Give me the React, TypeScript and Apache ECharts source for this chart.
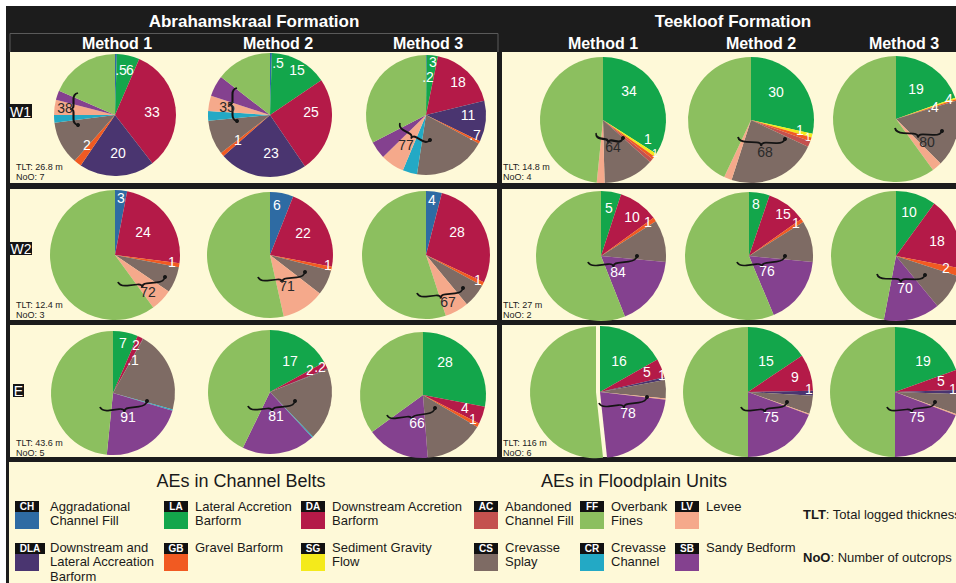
import React, { useEffect, useRef } from 'react';
import * as echarts from 'echarts';

// ---------- DATA ----------
const AE_COLORS: Record<string, string> = {
  CH: '#2E6BA3', LA: '#13A64B', DA: '#B41A48', DLA: '#4A3570', GB: '#F15A22', SG: '#F4EA1B',
  AC: '#C4514E', FF: '#8CBF5F', LV: '#F5A98B', CS: '#7E6B64', CR: '#23A9C5', SB: '#84418F',
};

const ROWS = ['W1', 'W2', 'E'];
const FORMATIONS = ['Abrahamskraal Formation', 'Teekloof Formation'];
const METHODS = ['Method 1', 'Method 2', 'Method 3'];

type Slice = [string, number];
// clockwise from 12 o'clock, percent of logged thickness
const W1_ABR_M1: Slice[] = [['CH', 0.5], ['LA', 6], ['DA', 33], ['DLA', 20], ['GB', 2], ['CS', 11.5], ['CR', 2], ['LV', 4], ['SB', 2.5], ['FF', 18.5]];
const W1_ABR_M2: Slice[] = [['CH', 0.5], ['LA', 15], ['DA', 25], ['DLA', 23], ['GB', 1], ['CS', 9], ['CR', 2.5], ['LV', 4], ['SB', 5.5], ['FF', 14.5]];
const W1_ABR_M3: Slice[] = [['CH', 0.2], ['LA', 3], ['DA', 18], ['DLA', 11], ['GB', 0.7], ['CS', 19.5], ['CR', 3.9], ['LV', 6.4], ['SB', 4.7], ['FF', 32.6]];
const W1_TEE_M1: Slice[] = [['LA', 34], ['SG', 0.8], ['GB', 0.8], ['AC', 1], ['CS', 13], ['LV', 2], ['FF', 48.4]];
const W1_TEE_M2: Slice[] = [['LA', 28.5], ['SG', 1], ['GB', 1], ['AC', 1.5], ['CS', 23], ['LV', 2], ['FF', 43]];
const W1_TEE_M3: Slice[] = [['LA', 19.5], ['SG', 0.4], ['GB', 0.4], ['CS', 17.2], ['LV', 2.5], ['FF', 60]];

const W2_ABR_M1: Slice[] = [['CH', 3], ['DA', 24], ['GB', 1], ['CS', 6.5], ['LV', 5.5], ['FF', 60]];
const W2_ABR_M2: Slice[] = [['CH', 6], ['DA', 22], ['GB', 1], ['CS', 6.5], ['LV', 11], ['FF', 53.5]];
const W2_ABR_M3: Slice[] = [['CH', 4], ['DA', 28], ['GB', 1], ['CS', 6], ['LV', 6], ['FF', 55]];
const W2_TEE_M1: Slice[] = [['LA', 5], ['DA', 10], ['GB', 1], ['CS', 10.5], ['SB', 17.5], ['FF', 56]];
const W2_TEE_M2: Slice[] = [['LA', 5.2], ['DA', 10], ['GB', 0.9], ['CS', 10.4], ['SB', 17.2], ['FF', 56.3]];
const W2_TEE_M3: Slice[] = [['LA', 10], ['DA', 18], ['GB', 2], ['CS', 9], ['SB', 14], ['FF', 47]];

const E_ABR_M1: Slice[] = [['LA', 6.5], ['DA', 1.5], ['DLA', 0.1], ['CS', 21.2], ['CR', 0.3], ['SB', 22], ['FF', 48.4]];
const E_ABR_M2: Slice[] = [['LA', 17], ['DA', 1.8], ['DLA', 0.2], ['CS', 18.8], ['CR', 0.3], ['SB', 19.1], ['FF', 42.8]];
const E_ABR_M3: Slice[] = [['LA', 28], ['DA', 4.5], ['GB', 1], ['CS', 15.3], ['SB', 16.2], ['FF', 35]];
const E_TEE_M1: Slice[] = [['LA', 16.8], ['DA', 4.6], ['DLA', 0.7], ['CS', 4.5], ['LV', 0.3], ['SB', 21.4], ['FF', 51.7]];
const E_TEE_M2: Slice[] = [['LA', 15.6], ['DA', 9.1], ['DLA', 1.2], ['CS', 4.5], ['LV', 0.3], ['SB', 19.3], ['FF', 50]];
const E_TEE_M3: Slice[] = [['LA', 19.5], ['DA', 5], ['DLA', 1], ['CS', 5], ['LV', 0.3], ['SB', 19.2], ['FF', 50]];

const PIES: Slice[][][] = [
  [W1_ABR_M1, W1_ABR_M2, W1_ABR_M3, W1_TEE_M1, W1_TEE_M2, W1_TEE_M3],
  [W2_ABR_M1, W2_ABR_M2, W2_ABR_M3, W2_TEE_M1, W2_TEE_M2, W2_TEE_M3],
  [E_ABR_M1, E_ABR_M2, E_ABR_M3, E_TEE_M1, E_TEE_M2, E_TEE_M3],
];

// numbers printed on the slices
const SLICE_LABELS: string[][][] = [
  [['.5', '6', '33', '20', '2'], ['.5', '15', '25', '23', '1'], ['3', '.2', '18', '11', '.7'], ['34', '1', '1'], ['30', '1', '1'], ['19', '.4', '4']],
  [['3', '24', '1'], ['6', '22', '1'], ['4', '28', '1'], ['5', '10', '1'], ['8', '15', '1'], ['10', '18', '2']],
  [['7', '2', '.1'], ['17', '2', '.2'], ['28', '4', '1'], ['16', '5', '1'], ['15', '9', '1'], ['19', '5', '1']],
];
// bracketed floodplain totals
const FLOODPLAIN_TOTALS: number[][] = [
  [38, 35, 77, 64, 68, 80],
  [72, 71, 67, 84, 76, 70],
  [91, 81, 66, 78, 75, 75],
];
const ABR_TLT = ['26.8 m', '12.4 m', '43.6 m'];
const ABR_NOO = [7, 3, 5];
const TEE_TLT = ['14.8 m', '27 m', '116 m'];
const TEE_NOO = [4, 2, 6];

const LEGEND_ROW1: [string, string[]][] = [
  ['CH', ['Aggradational', 'Channel Fill']], ['LA', ['Lateral Accretion', 'Barform']],
  ['DA', ['Downstream Accretion', 'Barform']], ['AC', ['Abandoned', 'Channel Fill']],
  ['FF', ['Overbank', 'Fines']], ['LV', ['Levee']],
];
const LEGEND_ROW2: [string, string[]][] = [
  ['DLA', ['Downstream and', 'Lateral Accreation', 'Barform']], ['GB', ['Gravel Barform']],
  ['SG', ['Sediment Gravity', 'Flow']], ['CS', ['Crevasse', 'Splay']],
  ['CR', ['Crevasse', 'Channel']], ['SB', ['Sandy Bedform']],
];

// ---------- LAYOUT ----------
const PIE_GEOM: number[][][] = [
  [[115, 115, 61], [270, 115, 62], [426, 115, 60], [603, 120, 63], [751, 120, 63], [896, 119, 63]],
  [[115, 255, 65], [270, 255, 63], [426, 255, 64], [601, 256, 65], [749, 256, 64], [896, 256, 65]],
  [[113, 393, 62], [270, 392, 62], [423, 395, 63], [600, 392, 66], [748, 392, 65], [895, 392, 65]],
];
const LABEL_OFFSETS: number[][][][] = [
  [[[6, -45], [15, -45], [37, -3], [3, 38], [-28, 30]], [[8, -52], [27, -45], [41, -3], [1, 38], [-32, 25]],
   [[7, -53], [2, -38], [32, -33], [42, 0], [49, 20]], [[26, -29], [45, 19], [52, 33]],
   [[25, -28], [49, 10], [57, 17]], [[20, -30], [37, -12], [53, -20]]],
  [[[6, -57], [28, -23], [57, 7]], [[7, -50], [33, -22], [58, 10]], [[6, -55], [31, -23], [52, 25]],
   [[8, -48], [31, -39], [47, -34]], [[7, -52], [34, -42], [47, -33]], [[13, -44], [41, -15], [50, 12]]],
  [[[10, -50], [23, -48], [20, -33]], [[20, -31], [40, -22], [50, -25]], [[22, -33], [42, 13], [50, 24]],
   [[19, -31], [47, -20], [62, -17]], [[18, -31], [47, -15], [61, -3]], [[28, -31], [46, -11], [58, -3]]],
];
const LABEL_SMALL: string[] = ['0-3-2', '0-4-2'];
const GROUP_OFFSETS: number[][][] = [
  [[-50, -7], [-43, -8], [-20, 30], [10, 27], [14, 32], [31, 23]],
  [[33, 37], [17, 31], [22, 47], [17, 16], [18, 15], [9, 32]],
  [[15, 24], [6, 24], [-6, 28], [28, 21], [23, 25], [22, 25]],
];
const GROUP_DARK: boolean[][] = [
  [true, true, true, true, true, true],
  [true, true, true, false, false, false],
  [false, false, false, false, false, false],
];
const BRACES: number[][][] = [
  [[-37, -22, -37, 10], [-33, -27, -33, 6], [-26, 8, 4, 25], [-7, 13, 20, 18], [-13, 17, 34, 19], [-1, 9, 46, 12]],
  [[3, 27, 50, 22], [-12, 22, 35, 17], [-9, 38, 37, 33], [-13, 6, 36, 0], [-12, 6, 36, 0], [-19, 18, 29, 19]],
  [[-13, 14, 34, 8], [-22, 14, 25, 9], [-36, 20, 12, 13], [-1, 11, 47, 5], [-7, 15, 39, 10], [-8, 15, 40, 10]],
];
const EXPLODED: (string | null)[][] = [
  [null, null, null, null, null, null],
  [null, null, null, null, null, null],
  [null, null, null, 'FF', null, null],
];

const SANS = '"Liberation Sans", Arial, Helvetica, sans-serif';
const FRAME = '#1c1c1c';
const CREAM = '#FEF9D8';

const BRACE_D = 'M0,0 C1,4 4,5 9,5 L19,5 C22,5 24,6 24,9 C24,6 26,5 29,5 L39,5 C44,5 47,4 48,0';
let braceRegistered = false;
function ensureBrace() {
  if (braceRegistered) return;
  echarts.graphic.registerShape('brace', echarts.graphic.extendPath(BRACE_D, {}) as any);
  braceRegistered = true;
}

function txt(text: string, x: number, y: number, font: string, fill: string, align = 'center', z = 20): any {
  return { type: 'text', x, y, z, silent: true, style: { text, font, fill, textAlign: align, textVerticalAlign: 'middle' } };
}

function buildOption() {
  const graphics: any[] = [];
  // frame
  graphics.push({ type: 'rect', z: 0, silent: true, shape: { x: 6, y: 6, width: 950, height: 577 }, style: { fill: FRAME } });
  const colX = [[10, 487], [502, 454]];
  const rowY = [[52, 131], [189, 131], [325, 132]];
  rowY.forEach(([y, h]) => colX.forEach(([x, w]) => {
    graphics.push({ type: 'rect', z: 0, silent: true, shape: { x, y, width: w, height: h }, style: { fill: CREAM } });
  }));
  graphics.push({ type: 'rect', z: 0, silent: true, shape: { x: 9, y: 462, width: 947, height: 121 }, style: { fill: CREAM } });
  graphics.push({ type: 'polyline', z: 1, silent: true, shape: { points: [[10, 52], [10, 33.5], [498, 33.5], [498, 52]] }, style: { stroke: '#5a5a5a', lineWidth: 1, fill: 'none' } });

  // headers
  const hdrBold17 = `bold 17px ${SANS}`;
  const hdrBold16 = `bold 16px ${SANS}`;
  graphics.push(txt(FORMATIONS[0], 254, 21, hdrBold17, '#fff'));
  graphics.push(txt(FORMATIONS[1], 733, 21, hdrBold17, '#fff'));
  [117, 278, 428].forEach((x, i) => graphics.push(txt(METHODS[i], x, 43, hdrBold16, '#fff')));
  [603, 761, 904].forEach((x, i) => graphics.push(txt(METHODS[i], x, 43, hdrBold16, '#fff')));

  // row labels
  const rowBoxes = [[9, 104, 23, 14], [10, 242, 22, 13], [13, 384, 11, 13]];
  rowBoxes.forEach(([x, y, w, h], i) => {
    graphics.push({ type: 'rect', z: 5, silent: true, shape: { x, y, width: w, height: h }, style: { fill: '#151515' } });
    graphics.push(txt(ROWS[i], x + w / 2, y + h / 2 + 0.5, `14px ${SANS}`, '#fff', 'center', 6));
  });

  // TLT / NoO
  const tltY = [[167, 177], [305, 315], [443, 453]];
  const small = `9px ${SANS}`;
  tltY.forEach(([y1, y2], i) => {
    graphics.push(txt(`TLT: ${ABR_TLT[i]}`, 16, y1, small, '#222', 'left'));
    graphics.push(txt(`NoO: ${ABR_NOO[i]}`, 16, y2, small, '#222', 'left'));
    graphics.push(txt(`TLT: ${TEE_TLT[i]}`, 503, y1, small, '#222', 'left'));
    graphics.push(txt(`NoO: ${TEE_NOO[i]}`, 503, y2, small, '#222', 'left'));
  });

  // pies
  const series: any[] = [];
  PIES.forEach((row, ri) => row.forEach((slices, ci) => {
    const [cx, cy, r] = PIE_GEOM[ri][ci];
    const ex = EXPLODED[ri][ci];
    series.push({
      type: 'pie', center: [cx, cy], radius: r, startAngle: 90, clockwise: true,
      label: { show: false }, labelLine: { show: false },
      selectedMode: ex ? 'single' : false, selectedOffset: 4,
      itemStyle: { borderWidth: 0 },
      emphasis: { disabled: true }, silent: true,
      data: slices.map(([k, v]) => ({ name: k, value: v, selected: k === ex, itemStyle: { color: AE_COLORS[k] } })),
    });
    // slice labels
    SLICE_LABELS[ri][ci].forEach((t, li) => {
      const [dx, dy] = LABEL_OFFSETS[ri][ci][li];
      const isSmall = LABEL_SMALL.includes(`${ri}-${ci}-${li}`);
      graphics.push(txt(t, cx + dx, cy + dy, `${isSmall ? 11 : 14}px ${SANS}`, '#fff'));
    });
    // group total
    const [gx, gy] = GROUP_OFFSETS[ri][ci];
    graphics.push(txt(String(FLOODPLAIN_TOTALS[ri][ci]), cx + gx, cy + gy, `14px ${SANS}`, GROUP_DARK[ri][ci] ? '#2a2a2a' : '#fff'));
    // brace
    const [x1, y1, x2, y2] = BRACES[ri][ci];
    const ax = cx + x1, ay = cy + y1, bx = cx + x2, by = cy + y2;
    const L = Math.hypot(bx - ax, by - ay);
    const rot = Math.atan2(-(by - ay), bx - ax);
    graphics.push({ type: 'brace', z: 15, silent: true, x: ax, y: ay, rotation: rot, scaleX: L / 48, scaleY: 0.9,
      style: { stroke: '#141414', lineWidth: 1.8, fill: 'none', strokeNoScale: true } });
    graphics.push({ type: 'circle', z: 15, silent: true, shape: { cx: bx, cy: by, r: 2 }, style: { fill: '#141414' } });
  }));

  // legend
  graphics.push(txt('AEs in Channel Belts', 241, 481, `18px ${SANS}`, '#1a1a1a'));
  graphics.push(txt('AEs in Floodplain Units', 634, 481, `18px ${SANS}`, '#1a1a1a'));
  const tagX = [15, 164, 301, 474, 580, 675];
  const textX = [50, 195, 332, 505, 611, 706];
  const legendRows: [[string, string[]][], number, number][] = [[LEGEND_ROW1, 501, 506], [LEGEND_ROW2, 543, 547]];
  legendRows.forEach(([items, tagTop, textTop]) => {
    items.forEach(([key, lines], i) => {
      const x = tagX[i];
      const tagW = key.length > 2 ? 30 : 24;
      graphics.push({ type: 'rect', z: 5, silent: true, shape: { x, y: tagTop + 9, width: 24, height: 19 }, style: { fill: AE_COLORS[key] } });
      graphics.push({ type: 'rect', z: 6, silent: true, shape: { x, y: tagTop, width: tagW, height: 11 }, style: { fill: '#111' } });
      graphics.push(txt(key, x + tagW / 2, tagTop + 5.5, `bold 10px ${SANS}`, '#fff', 'center', 7));
      lines.forEach((ln, li) => graphics.push(txt(ln, textX[i], textTop + li * 14.5, `13px ${SANS}`, '#1a1a1a', 'left')));
    });
  });
  graphics.push({ type: 'text', z: 20, silent: true, x: 803, y: 514,
    style: { text: '{b|TLT}: Total logged thickness', font: `13px ${SANS}`, fill: '#1a1a1a', textVerticalAlign: 'middle',
      rich: { b: { font: `bold 13px ${SANS}`, fill: '#1a1a1a' } } } });
  graphics.push({ type: 'text', z: 20, silent: true, x: 803, y: 557,
    style: { text: '{b|NoO}: Number of outcrops', font: `13px ${SANS}`, fill: '#1a1a1a', textVerticalAlign: 'middle',
      rich: { b: { font: `bold 13px ${SANS}`, fill: '#1a1a1a' } } } });

  return { animation: false, backgroundColor: '#ffffff', series, graphic: { elements: graphics } };
}

export default function App() {
  const ref = useRef<HTMLDivElement>(null);
  useEffect(() => {
    document.body.style.margin = '0';
    ensureBrace();
    const chart = echarts.init(ref.current!, null, { renderer: 'svg', width: 956, height: 583 });
    chart.setOption(buildOption() as any);
    return () => chart.dispose();
  }, []);
  return <div ref={ref} style={{ width: 956, height: 583 }} />;
}
